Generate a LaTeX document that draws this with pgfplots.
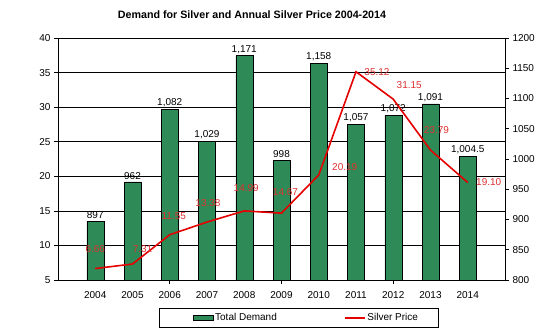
\documentclass[border=0pt]{standalone}
\usepackage{pgfplots}
\pgfplotsset{compat=1.18}
\usepackage{pgfplotstable}
\usepackage{fontspec}
\setmainfont{Liberation Sans}
\definecolor{bargreen}{RGB}{46,139,87}
\definecolor{linered}{RGB}{228,0,0}
\definecolor{labred}{RGB}{222,48,48}
\pgfplotsset{/pgf/number format/assume math mode=true}

\pgfplotstableread{
year demand price dx dy
2004 897    6.66  0  19
2005 962    7.31  10 15
2006 1082   11.55 4  19
2007 1029   13.38 1  19
2008 1171   14.99 2  23
2009 998    14.67 4  21
2010 1158   20.19 26 8
2011 1057   35.12 21 0
2012 1072   31.15 16 14
2013 1091   23.79 6  20
2014 1004.5 19.10 21 0
}\data

\begin{document}
\fontsize{10pt}{12pt}\selectfont
\begin{tikzpicture}
\useasboundingbox (0,0) rectangle (542pt,332pt);
\node[font=\bfseries\fontsize{10.7}{12}\selectfont] at (252pt,317pt) {Demand for Silver and Annual Silver Price 2004-2014};
% axis 1: left scale, grid, left ticks
\begin{axis}[
  at={(58pt,52pt)}, anchor=south west,
  scale only axis, width=447pt, height=242pt,
  xmin=2003, xmax=2015, ymin=5, ymax=40,
  axis y line*=left, axis x line*=bottom,
  ytick={5,10,...,40},
  ymajorgrids, grid style={black, line width=0.6pt},
  xtick={2006,2009,2012}, xticklabels={},
  tick align=outside, major tick length=4pt,
  axis line style={black, line width=0.6pt},
  tick style={black, line width=0.6pt},
]
\addplot[draw=none] coordinates {(2003,5)};
\end{axis}
% axis 2: right scale, bars
\begin{axis}[
  at={(58pt,52pt)}, anchor=south west,
  scale only axis, width=447pt, height=242pt,
  xmin=2003, xmax=2015, ymin=800, ymax=1200,
  axis y line*=right, axis x line*=bottom,
  ytick={800,850,...,1200},
  xtick={2004,...,2014},
  xtick style={draw=none},
  xticklabel style={/pgf/number format/1000 sep=, yshift=-4pt},
  yticklabel style={/pgf/number format/1000 sep=},
  tick align=outside, major tick length=4pt,
  axis line style={black, line width=0.6pt},
  ytick style={black, line width=0.6pt},
  clip=false,
]
\addplot[ybar, bar width=17pt, fill=bargreen, draw=black, line width=0.5pt,
  nodes near coords={\pgfmathprintnumber[fixed,precision=1,1000 sep={,}]{\pgfplotspointmeta}},
  point meta=y,
  every node near coord/.append style={text=black, inner sep=2pt}]
  table[x=year, y=demand]{\data};
\end{axis}
% axis 3: left scale, line and legend
\begin{axis}[
  at={(58pt,52pt)}, anchor=south west,
  scale only axis, width=447pt, height=242pt,
  xmin=2003, xmax=2015, ymin=5, ymax=40,
  hide axis,
  clip=false,
  legend columns=2,
  legend style={at={(0.538,-0.157)}, anchor=center, draw=black, line width=0.6pt,
    inner xsep=18pt, inner ysep=3pt,
    /tikz/every even column/.append style={column sep=65pt}},
]
\addlegendimage{legend image code/.code={\path[draw=none, fill=none] (0pt,0pt) -- (16pt,0pt); \draw[fill=bargreen, draw=black, line width=0.5pt] (16pt,-2.5pt) rectangle (36pt,2.5pt);}}
\addlegendentry{Total Demand}
\addplot[linered, line width=1.6pt,
  legend image code/.code={\draw[linered, line width=1.6pt] (0pt,0pt) -- (20pt,0pt);},
  nodes near coords={\pgfmathprintnumber[fixed,fixed zerofill,precision=2]{\pgfplotspointmeta}},
  point meta=y,
  visualization depends on={\thisrow{dx}\as\dx},
  visualization depends on={\thisrow{dy}\as\dy},
  every node near coord/.append style={anchor=center, xshift=\dx pt, yshift=\dy pt, text=labred}]
  table[x=year, y=price]{\data};
\addlegendentry{Silver Price}
\end{axis}
\end{tikzpicture}
\end{document}
